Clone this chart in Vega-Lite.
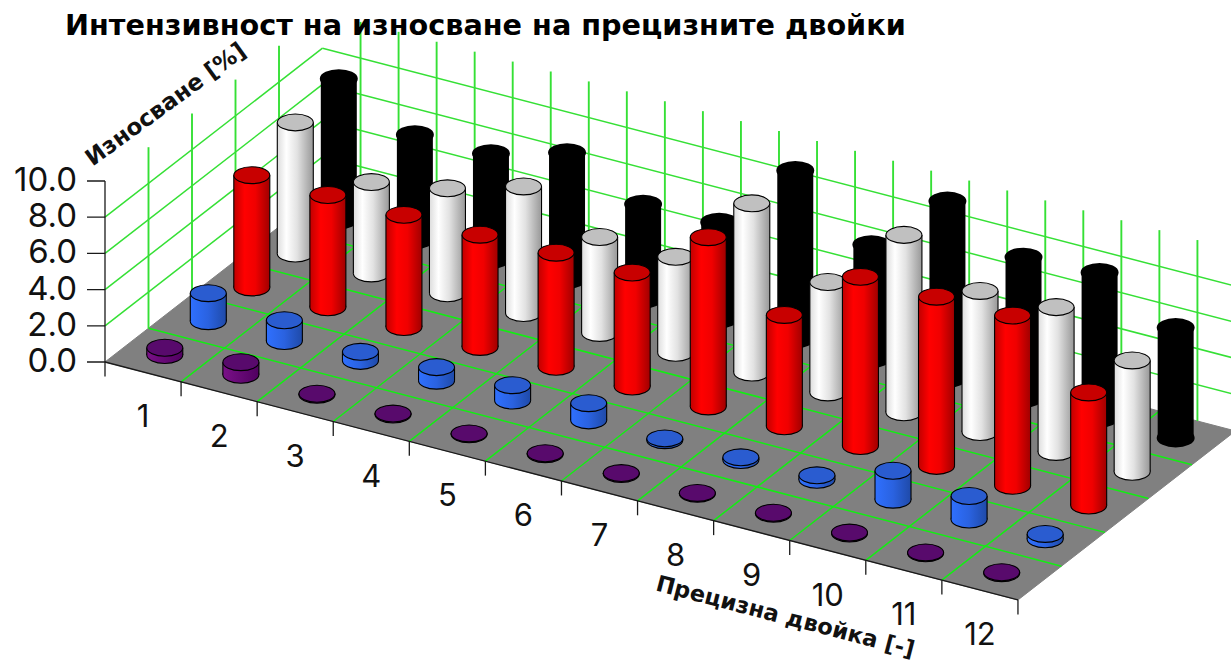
{
"$schema":"https://vega.github.io/schema/vega-lite/v6.json",
"width":1231,"height":663,"padding":0,"autosize":{"type":"none"},"background":"white",
"title":{"text":"Интензивност на износване на прецизните двойки","anchor":"start","frame":"group","offset":-41,"dx":65,"font":"DejaVu Sans","fontSize":28.7,"fontWeight":"bold","color":"#000"},
"config":{"view":{"stroke":null},"axis":{"disable":true}},
"datasets":{
"floor":[{"ord":0,"pair":0,"row":0},{"ord":1,"pair":12,"row":0},{"ord":2,"pair":12,"row":5},{"ord":3,"pair":0,"row":5},{"ord":4,"pair":0,"row":0}],
"grid":[
{"kind":"wall","pair":0,"row":0,"value":2,"pairEnd":0,"rowEnd":5,"valueEnd":2},{"kind":"wall","pair":0,"row":0,"value":4,"pairEnd":0,"rowEnd":5,"valueEnd":4},{"kind":"wall","pair":0,"row":0,"value":6,"pairEnd":0,"rowEnd":5,"valueEnd":6},{"kind":"wall","pair":0,"row":0,"value":8,"pairEnd":0,"rowEnd":5,"valueEnd":8},
{"kind":"wall","pair":0,"row":5,"value":2,"pairEnd":12,"rowEnd":5,"valueEnd":2},{"kind":"wall","pair":0,"row":5,"value":4,"pairEnd":12,"rowEnd":5,"valueEnd":4},{"kind":"wall","pair":0,"row":5,"value":6,"pairEnd":12,"rowEnd":5,"valueEnd":6},{"kind":"wall","pair":0,"row":5,"value":8,"pairEnd":12,"rowEnd":5,"valueEnd":8},
{"kind":"post","pair":0,"row":1,"value":0,"pairEnd":0,"rowEnd":1,"valueEnd":10},{"kind":"post","pair":0,"row":2,"value":0,"pairEnd":0,"rowEnd":2,"valueEnd":10},{"kind":"post","pair":0,"row":3,"value":0,"pairEnd":0,"rowEnd":3,"valueEnd":10},{"kind":"post","pair":0,"row":4,"value":0,"pairEnd":0,"rowEnd":4,"valueEnd":10},
{"kind":"post","pair":0.5,"row":5,"value":0,"pairEnd":0.5,"rowEnd":5,"valueEnd":10},{"kind":"post","pair":1,"row":5,"value":0,"pairEnd":1,"rowEnd":5,"valueEnd":10},{"kind":"post","pair":1.5,"row":5,"value":0,"pairEnd":1.5,"rowEnd":5,"valueEnd":10},{"kind":"post","pair":2,"row":5,"value":0,"pairEnd":2,"rowEnd":5,"valueEnd":10},{"kind":"post","pair":2.5,"row":5,"value":0,"pairEnd":2.5,"rowEnd":5,"valueEnd":10},{"kind":"post","pair":3,"row":5,"value":0,"pairEnd":3,"rowEnd":5,"valueEnd":10},{"kind":"post","pair":3.5,"row":5,"value":0,"pairEnd":3.5,"rowEnd":5,"valueEnd":10},{"kind":"post","pair":4,"row":5,"value":0,"pairEnd":4,"rowEnd":5,"valueEnd":10},{"kind":"post","pair":4.5,"row":5,"value":0,"pairEnd":4.5,"rowEnd":5,"valueEnd":10},{"kind":"post","pair":5,"row":5,"value":0,"pairEnd":5,"rowEnd":5,"valueEnd":10},{"kind":"post","pair":5.5,"row":5,"value":0,"pairEnd":5.5,"rowEnd":5,"valueEnd":10},{"kind":"post","pair":6,"row":5,"value":0,"pairEnd":6,"rowEnd":5,"valueEnd":10},{"kind":"post","pair":6.5,"row":5,"value":0,"pairEnd":6.5,"rowEnd":5,"valueEnd":10},{"kind":"post","pair":7,"row":5,"value":0,"pairEnd":7,"rowEnd":5,"valueEnd":10},{"kind":"post","pair":7.5,"row":5,"value":0,"pairEnd":7.5,"rowEnd":5,"valueEnd":10},{"kind":"post","pair":8,"row":5,"value":0,"pairEnd":8,"rowEnd":5,"valueEnd":10},{"kind":"post","pair":8.5,"row":5,"value":0,"pairEnd":8.5,"rowEnd":5,"valueEnd":10},{"kind":"post","pair":9,"row":5,"value":0,"pairEnd":9,"rowEnd":5,"valueEnd":10},{"kind":"post","pair":9.5,"row":5,"value":0,"pairEnd":9.5,"rowEnd":5,"valueEnd":10},{"kind":"post","pair":10,"row":5,"value":0,"pairEnd":10,"rowEnd":5,"valueEnd":10},{"kind":"post","pair":10.5,"row":5,"value":0,"pairEnd":10.5,"rowEnd":5,"valueEnd":10},{"kind":"post","pair":11,"row":5,"value":0,"pairEnd":11,"rowEnd":5,"valueEnd":10},{"kind":"post","pair":11.5,"row":5,"value":0,"pairEnd":11.5,"rowEnd":5,"valueEnd":10},
{"kind":"floor","pair":1,"row":0,"value":0,"pairEnd":1,"rowEnd":5,"valueEnd":0},{"kind":"floor","pair":2,"row":0,"value":0,"pairEnd":2,"rowEnd":5,"valueEnd":0},{"kind":"floor","pair":3,"row":0,"value":0,"pairEnd":3,"rowEnd":5,"valueEnd":0},{"kind":"floor","pair":4,"row":0,"value":0,"pairEnd":4,"rowEnd":5,"valueEnd":0},{"kind":"floor","pair":5,"row":0,"value":0,"pairEnd":5,"rowEnd":5,"valueEnd":0},{"kind":"floor","pair":6,"row":0,"value":0,"pairEnd":6,"rowEnd":5,"valueEnd":0},{"kind":"floor","pair":7,"row":0,"value":0,"pairEnd":7,"rowEnd":5,"valueEnd":0},{"kind":"floor","pair":8,"row":0,"value":0,"pairEnd":8,"rowEnd":5,"valueEnd":0},{"kind":"floor","pair":9,"row":0,"value":0,"pairEnd":9,"rowEnd":5,"valueEnd":0},{"kind":"floor","pair":10,"row":0,"value":0,"pairEnd":10,"rowEnd":5,"valueEnd":0},{"kind":"floor","pair":11,"row":0,"value":0,"pairEnd":11,"rowEnd":5,"valueEnd":0},
{"kind":"floor","pair":0,"row":1,"value":0,"pairEnd":12,"rowEnd":1,"valueEnd":0},{"kind":"floor","pair":0,"row":2,"value":0,"pairEnd":12,"rowEnd":2,"valueEnd":0},{"kind":"floor","pair":0,"row":3,"value":0,"pairEnd":12,"rowEnd":3,"valueEnd":0},{"kind":"floor","pair":0,"row":4,"value":0,"pairEnd":12,"rowEnd":4,"valueEnd":0},
{"kind":"axis","pair":0,"row":0,"value":0,"pairEnd":12,"rowEnd":0,"valueEnd":0},{"kind":"axis","pair":0,"row":0,"value":10,"pairEnd":0,"rowEnd":0,"valueEnd":-0.8},
{"kind":"axis","pair":0,"row":0,"value":0,"pairEnd":-0.177,"rowEnd":-0.104,"valueEnd":0},{"kind":"axis","pair":0,"row":0,"value":2,"pairEnd":-0.177,"rowEnd":-0.104,"valueEnd":2},{"kind":"axis","pair":0,"row":0,"value":4,"pairEnd":-0.177,"rowEnd":-0.104,"valueEnd":4},{"kind":"axis","pair":0,"row":0,"value":6,"pairEnd":-0.177,"rowEnd":-0.104,"valueEnd":6},{"kind":"axis","pair":0,"row":0,"value":8,"pairEnd":-0.177,"rowEnd":-0.104,"valueEnd":8},{"kind":"axis","pair":0,"row":0,"value":10,"pairEnd":-0.177,"rowEnd":-0.104,"valueEnd":10},
{"kind":"axis","pair":1,"row":0,"value":0,"pairEnd":1,"rowEnd":0,"valueEnd":-0.8},{"kind":"axis","pair":2,"row":0,"value":0,"pairEnd":2,"rowEnd":0,"valueEnd":-0.8},{"kind":"axis","pair":3,"row":0,"value":0,"pairEnd":3,"rowEnd":0,"valueEnd":-0.8},{"kind":"axis","pair":4,"row":0,"value":0,"pairEnd":4,"rowEnd":0,"valueEnd":-0.8},{"kind":"axis","pair":5,"row":0,"value":0,"pairEnd":5,"rowEnd":0,"valueEnd":-0.8},{"kind":"axis","pair":6,"row":0,"value":0,"pairEnd":6,"rowEnd":0,"valueEnd":-0.8},{"kind":"axis","pair":7,"row":0,"value":0,"pairEnd":7,"rowEnd":0,"valueEnd":-0.8},{"kind":"axis","pair":8,"row":0,"value":0,"pairEnd":8,"rowEnd":0,"valueEnd":-0.8},{"kind":"axis","pair":9,"row":0,"value":0,"pairEnd":9,"rowEnd":0,"valueEnd":-0.8},{"kind":"axis","pair":10,"row":0,"value":0,"pairEnd":10,"rowEnd":0,"valueEnd":-0.8},{"kind":"axis","pair":11,"row":0,"value":0,"pairEnd":11,"rowEnd":0,"valueEnd":-0.8},{"kind":"axis","pair":12,"row":0,"value":0,"pairEnd":12,"rowEnd":0,"valueEnd":-0.8}
],
"wear":[
{"pair":1,"row":0,"value":0.4},{"pair":2,"row":0,"value":0.7},{"pair":3,"row":0,"value":0.05},{"pair":4,"row":0,"value":0.05},{"pair":5,"row":0,"value":0.05},{"pair":6,"row":0,"value":0.05},{"pair":7,"row":0,"value":0.05},{"pair":8,"row":0,"value":0.05},{"pair":9,"row":0,"value":0.05},{"pair":10,"row":0,"value":0.05},{"pair":11,"row":0,"value":0.05},{"pair":12,"row":0,"value":0.05},
{"pair":1,"row":1,"value":1.55},{"pair":2,"row":1,"value":1.15},{"pair":3,"row":1,"value":0.5},{"pair":4,"row":1,"value":0.75},{"pair":5,"row":1,"value":0.85},{"pair":6,"row":1,"value":0.95},{"pair":7,"row":1,"value":0.1},{"pair":8,"row":1,"value":0.15},{"pair":9,"row":1,"value":0.25},{"pair":10,"row":1,"value":1.6},{"pair":11,"row":1,"value":1.3},{"pair":12,"row":1,"value":0.3},
{"pair":1,"row":2,"value":6.2},{"pair":2,"row":2,"value":6.2},{"pair":3,"row":2,"value":6.2},{"pair":4,"row":2,"value":6.2},{"pair":5,"row":2,"value":6.3},{"pair":6,"row":2,"value":6.3},{"pair":7,"row":2,"value":9.35},{"pair":8,"row":2,"value":6.15},{"pair":9,"row":2,"value":9.35},{"pair":10,"row":2,"value":9.35},{"pair":11,"row":2,"value":9.4},{"pair":12,"row":2,"value":6.25},
{"pair":1,"row":3,"value":7.25},{"pair":2,"row":3,"value":5.05},{"pair":3,"row":3,"value":5.8},{"pair":4,"row":3,"value":7.0},{"pair":5,"row":3,"value":5.3},{"pair":6,"row":3,"value":5.3},{"pair":7,"row":3,"value":9.35},{"pair":8,"row":3,"value":6.1},{"pair":9,"row":3,"value":9.8},{"pair":10,"row":3,"value":7.8},{"pair":11,"row":3,"value":8.0},{"pair":12,"row":3,"value":6.15},
{"pair":1,"row":4,"value":7.8},{"pair":2,"row":4,"value":5.8},{"pair":3,"row":4,"value":5.85},{"pair":4,"row":4,"value":7.0},{"pair":5,"row":4,"value":5.25},{"pair":6,"row":4,"value":5.35},{"pair":7,"row":4,"value":9.3},{"pair":8,"row":4,"value":6.3},{"pair":9,"row":4,"value":9.8},{"pair":10,"row":4,"value":7.8},{"pair":11,"row":4,"value":8.05},{"pair":12,"row":4,"value":6.1}
],
"labels":[
{"kind":"y","pair":0,"row":0,"value":0,"text":"0.0"},{"kind":"y","pair":0,"row":0,"value":2,"text":"2.0"},{"kind":"y","pair":0,"row":0,"value":4,"text":"4.0"},{"kind":"y","pair":0,"row":0,"value":6,"text":"6.0"},{"kind":"y","pair":0,"row":0,"value":8,"text":"8.0"},{"kind":"y","pair":0,"row":0,"value":10,"text":"10.0"},
{"kind":"x","pair":0.5,"row":0,"value":-2.55,"text":"1"},{"kind":"x","pair":1.5,"row":0,"value":-2.55,"text":"2"},{"kind":"x","pair":2.5,"row":0,"value":-2.55,"text":"3"},{"kind":"x","pair":3.5,"row":0,"value":-2.55,"text":"4"},{"kind":"x","pair":4.5,"row":0,"value":-2.55,"text":"5"},{"kind":"x","pair":5.5,"row":0,"value":-2.55,"text":"6"},{"kind":"x","pair":6.5,"row":0,"value":-2.55,"text":"7"},{"kind":"x","pair":7.5,"row":0,"value":-2.55,"text":"8"},{"kind":"x","pair":8.5,"row":0,"value":-2.55,"text":"9"},{"kind":"x","pair":9.5,"row":0,"value":-2.55,"text":"10"},{"kind":"x","pair":10.5,"row":0,"value":-2.55,"text":"11"},{"kind":"x","pair":11.5,"row":0,"value":-2.55,"text":"12"},
{"kind":"zTitle","pair":0,"row":1.4,"value":11.6,"text":"Износване [%]"},
{"kind":"xTitle","pair":8.94,"row":0,"value":-4.3,"text":"Прецизна двойка [-]"}
]
},
"layer":[
{"data":{"name":"floor"},
 "transform":[{"calculate":"datum.pair+0.5718*datum.row","as":"sx"},{"calculate":"-1.0956*datum.pair+1.8674*datum.row","as":"sy"}],
 "mark":{"type":"line","fill":"#808080","stroke":"#808080","strokeWidth":1},
 "encoding":{
  "x":{"field":"sx","type":"quantitative","scale":{"domain":[-1.3801,14.8003],"nice":false,"zero":false}},
  "y":{"field":"sy","type":"quantitative","scale":{"domain":[-16.63,20],"nice":false,"zero":false}},
  "order":{"field":"ord"}}},
{"data":{"name":"grid"},
 "transform":[
  {"calculate":"datum.pair+0.5718*datum.row","as":"sx"},
  {"calculate":"datum.pairEnd+0.5718*datum.rowEnd","as":"sxEnd"},
  {"calculate":"datum.value-1.0956*datum.pair+1.8674*datum.row","as":"sy"},
  {"calculate":"datum.valueEnd-1.0956*datum.pairEnd+1.8674*datum.rowEnd","as":"syEnd"}],
 "encoding":{
  "x":{"field":"sx","type":"quantitative"},"x2":{"field":"sxEnd"},
  "y":{"field":"sy","type":"quantitative"},"y2":{"field":"syEnd"}},
 "layer":[
  {"transform":[{"filter":"datum.kind=='wall'"}],"mark":{"type":"rule","stroke":"#35e035","strokeWidth":1.5}},
  {"transform":[{"filter":"datum.kind=='post'"}],"mark":{"type":"rule","stroke":"#35e035","strokeWidth":1.9}},
  {"transform":[{"filter":"datum.kind=='floor'"}],"mark":{"type":"rule","stroke":"#12ee12","strokeWidth":1.5}},
  {"transform":[{"filter":"datum.kind=='axis'"}],"mark":{"type":"rule","stroke":"#1a1a1a","strokeWidth":1.3}}
 ]},
{"data":{"name":"wear"},
 "transform":[
  {"calculate":"datum.pair-0.5+0.5718*(datum.row+0.5)","as":"sx"},
  {"calculate":"datum.sx-0.2366","as":"sxLeft"},
  {"calculate":"datum.sx+0.2366","as":"sxRight"},
  {"calculate":"-1.0956*(datum.pair-0.5)+1.8674*(datum.row+0.5)","as":"syBase"},
  {"calculate":"datum.syBase+datum.value","as":"syTop"}],
 "layer":[
  {"transform":[{"filter":"datum.row==4"}],"layer":[
   {"mark":{"type":"point","shape":"M-1,0A1,0.47,0,1,1,1,0A1,0.47,0,1,1,-1,0Z","size":1296,"filled":true,"opacity":1,"fill":"#000","stroke":"#000"},"encoding":{"x":{"field":"sx","type":"quantitative"},"y":{"field":"syBase","type":"quantitative"}}},
   {"mark":{"type":"rect","fill":"#000"},"encoding":{"x":{"field":"sxLeft","type":"quantitative"},"x2":{"field":"sxRight"},"y":{"field":"syTop","type":"quantitative"},"y2":{"field":"syBase"}}},
   {"mark":{"type":"point","shape":"M-1,0A1,0.47,0,1,1,1,0A1,0.47,0,1,1,-1,0Z","size":1296,"filled":true,"opacity":1,"fill":"#000","stroke":"#000"},"encoding":{"x":{"field":"sx","type":"quantitative"},"y":{"field":"syTop","type":"quantitative"}}}
  ]},
  {"transform":[{"filter":"datum.row==3"}],"layer":[
   {"mark":{"type":"point","shape":"M-1,0A1,0.47,0,1,1,1,0A1,0.47,0,1,1,-1,0Z","size":1296,"filled":true,"opacity":1,"stroke":"#000","strokeWidth":1.1,"fill":{"gradient":"linear","stops":[{"offset":0,"color":"#dcdcdc"},{"offset":0.25,"color":"#ffffff"},{"offset":0.55,"color":"#e2e2e2"},{"offset":1,"color":"#989898"}]}},"encoding":{"x":{"field":"sx","type":"quantitative"},"y":{"field":"syBase","type":"quantitative"}}},
   {"mark":{"type":"rect","fill":{"gradient":"linear","stops":[{"offset":0,"color":"#dcdcdc"},{"offset":0.25,"color":"#ffffff"},{"offset":0.55,"color":"#e2e2e2"},{"offset":1,"color":"#989898"}]}},"encoding":{"x":{"field":"sxLeft","type":"quantitative"},"x2":{"field":"sxRight"},"y":{"field":"syTop","type":"quantitative"},"y2":{"field":"syBase"}}},
   {"mark":{"type":"rule","stroke":"#000","strokeWidth":1.1},"encoding":{"x":{"field":"sxLeft","type":"quantitative"},"y":{"field":"syTop","type":"quantitative"},"y2":{"field":"syBase"}}},
   {"mark":{"type":"rule","stroke":"#000","strokeWidth":1.1},"encoding":{"x":{"field":"sxRight","type":"quantitative"},"y":{"field":"syTop","type":"quantitative"},"y2":{"field":"syBase"}}},
   {"mark":{"type":"point","shape":"M-1,0A1,0.47,0,1,1,1,0A1,0.47,0,1,1,-1,0Z","size":1296,"filled":true,"opacity":1,"fill":"#c0c0c0","stroke":"#000","strokeWidth":1.1},"encoding":{"x":{"field":"sx","type":"quantitative"},"y":{"field":"syTop","type":"quantitative"}}}
  ]},
  {"transform":[{"filter":"datum.row==2"}],"layer":[
   {"mark":{"type":"point","shape":"M-1,0A1,0.47,0,1,1,1,0A1,0.47,0,1,1,-1,0Z","size":1296,"filled":true,"opacity":1,"stroke":"#000","strokeWidth":1.1,"fill":{"gradient":"linear","stops":[{"offset":0,"color":"#c00000"},{"offset":0.3,"color":"#ff0000"},{"offset":0.6,"color":"#f00000"},{"offset":1,"color":"#a00000"}]}},"encoding":{"x":{"field":"sx","type":"quantitative"},"y":{"field":"syBase","type":"quantitative"}}},
   {"mark":{"type":"rect","fill":{"gradient":"linear","stops":[{"offset":0,"color":"#c00000"},{"offset":0.3,"color":"#ff0000"},{"offset":0.6,"color":"#f00000"},{"offset":1,"color":"#a00000"}]}},"encoding":{"x":{"field":"sxLeft","type":"quantitative"},"x2":{"field":"sxRight"},"y":{"field":"syTop","type":"quantitative"},"y2":{"field":"syBase"}}},
   {"mark":{"type":"rule","stroke":"#000","strokeWidth":1.1},"encoding":{"x":{"field":"sxLeft","type":"quantitative"},"y":{"field":"syTop","type":"quantitative"},"y2":{"field":"syBase"}}},
   {"mark":{"type":"rule","stroke":"#000","strokeWidth":1.1},"encoding":{"x":{"field":"sxRight","type":"quantitative"},"y":{"field":"syTop","type":"quantitative"},"y2":{"field":"syBase"}}},
   {"mark":{"type":"point","shape":"M-1,0A1,0.47,0,1,1,1,0A1,0.47,0,1,1,-1,0Z","size":1296,"filled":true,"opacity":1,"fill":"#c80000","stroke":"#000","strokeWidth":1.1},"encoding":{"x":{"field":"sx","type":"quantitative"},"y":{"field":"syTop","type":"quantitative"}}}
  ]},
  {"transform":[{"filter":"datum.row==1"}],"layer":[
   {"mark":{"type":"point","shape":"M-1,0A1,0.47,0,1,1,1,0A1,0.47,0,1,1,-1,0Z","size":1296,"filled":true,"opacity":1,"stroke":"#000","strokeWidth":1.1,"fill":{"gradient":"linear","stops":[{"offset":0,"color":"#2f70ff"},{"offset":0.5,"color":"#2a62e0"},{"offset":1,"color":"#1f4aa8"}]}},"encoding":{"x":{"field":"sx","type":"quantitative"},"y":{"field":"syBase","type":"quantitative"}}},
   {"mark":{"type":"rect","fill":{"gradient":"linear","stops":[{"offset":0,"color":"#2f70ff"},{"offset":0.5,"color":"#2a62e0"},{"offset":1,"color":"#1f4aa8"}]}},"encoding":{"x":{"field":"sxLeft","type":"quantitative"},"x2":{"field":"sxRight"},"y":{"field":"syTop","type":"quantitative"},"y2":{"field":"syBase"}}},
   {"mark":{"type":"rule","stroke":"#000","strokeWidth":1.1},"encoding":{"x":{"field":"sxLeft","type":"quantitative"},"y":{"field":"syTop","type":"quantitative"},"y2":{"field":"syBase"}}},
   {"mark":{"type":"rule","stroke":"#000","strokeWidth":1.1},"encoding":{"x":{"field":"sxRight","type":"quantitative"},"y":{"field":"syTop","type":"quantitative"},"y2":{"field":"syBase"}}},
   {"mark":{"type":"point","shape":"M-1,0A1,0.47,0,1,1,1,0A1,0.47,0,1,1,-1,0Z","size":1296,"filled":true,"opacity":1,"fill":"#2a5cd0","stroke":"#000","strokeWidth":1.1},"encoding":{"x":{"field":"sx","type":"quantitative"},"y":{"field":"syTop","type":"quantitative"}}}
  ]},
  {"transform":[{"filter":"datum.row==0"}],"layer":[
   {"mark":{"type":"point","shape":"M-1,0A1,0.47,0,1,1,1,0A1,0.47,0,1,1,-1,0Z","size":1296,"filled":true,"opacity":1,"stroke":"#000","strokeWidth":1.1,"fill":{"gradient":"linear","stops":[{"offset":0,"color":"#7a1088"},{"offset":1,"color":"#500060"}]}},"encoding":{"x":{"field":"sx","type":"quantitative"},"y":{"field":"syBase","type":"quantitative"}}},
   {"mark":{"type":"rect","fill":{"gradient":"linear","stops":[{"offset":0,"color":"#7a1088"},{"offset":1,"color":"#500060"}]}},"encoding":{"x":{"field":"sxLeft","type":"quantitative"},"x2":{"field":"sxRight"},"y":{"field":"syTop","type":"quantitative"},"y2":{"field":"syBase"}}},
   {"mark":{"type":"rule","stroke":"#000","strokeWidth":1.1},"encoding":{"x":{"field":"sxLeft","type":"quantitative"},"y":{"field":"syTop","type":"quantitative"},"y2":{"field":"syBase"}}},
   {"mark":{"type":"rule","stroke":"#000","strokeWidth":1.1},"encoding":{"x":{"field":"sxRight","type":"quantitative"},"y":{"field":"syTop","type":"quantitative"},"y2":{"field":"syBase"}}},
   {"mark":{"type":"point","shape":"M-1,0A1,0.47,0,1,1,1,0A1,0.47,0,1,1,-1,0Z","size":1296,"filled":true,"opacity":1,"fill":"#580a6c","stroke":"#000","strokeWidth":1.1},"encoding":{"x":{"field":"sx","type":"quantitative"},"y":{"field":"syTop","type":"quantitative"}}}
  ]}
 ]},
{"data":{"name":"labels"},
 "transform":[
  {"calculate":"datum.pair+0.5718*datum.row","as":"sx"},
  {"calculate":"datum.value-1.0956*datum.pair+1.8674*datum.row","as":"sy"}],
 "encoding":{
  "x":{"field":"sx","type":"quantitative"},
  "y":{"field":"sy","type":"quantitative"},
  "text":{"field":"text","type":"nominal"}},
 "layer":[
  {"transform":[{"filter":"datum.kind=='y'"}],"mark":{"type":"text","align":"right","baseline":"middle","dx":-28,"font":"Inter","fontSize":33,"fontWeight":400,"color":"#111"}},
  {"transform":[{"filter":"datum.kind=='x'"}],"mark":{"type":"text","align":"center","baseline":"middle","font":"Inter","fontSize":31,"fontWeight":400,"color":"#111"}},
  {"transform":[{"filter":"datum.kind=='zTitle'"}],"mark":{"type":"text","align":"center","baseline":"middle","angle":-36,"font":"DejaVu Sans","fontWeight":"bold","fontSize":23,"color":"#111"}},
  {"transform":[{"filter":"datum.kind=='xTitle'"}],"mark":{"type":"text","align":"center","baseline":"middle","angle":14.6,"font":"DejaVu Sans","fontWeight":"bold","fontSize":22.5,"color":"#111"}}
 ]}
]
}
